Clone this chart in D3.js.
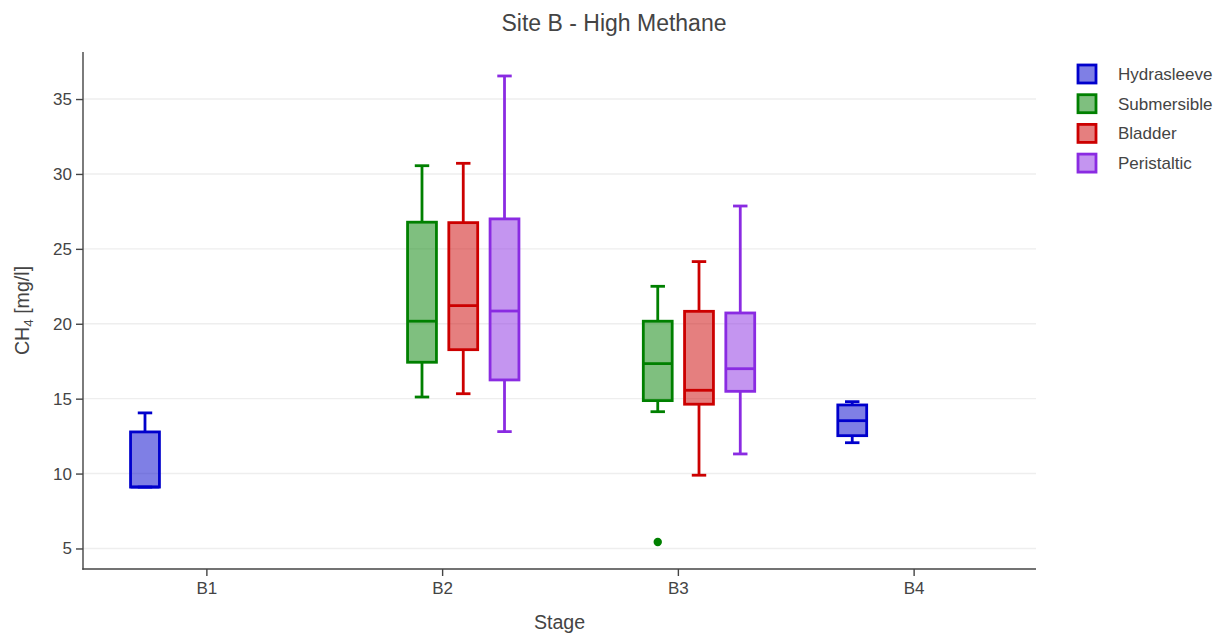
<!DOCTYPE html>
<html>
<head>
<meta charset="utf-8">
<script src="https://cdn.jsdelivr.net/npm/d3@7"></script>
<style>
  html, body { margin: 0; padding: 0; background: #fff; }
  svg { display: block; font-family: "Liberation Sans", Arial, sans-serif; }
</style>
</head>
<body>
<svg id="chart" width="1216" height="634"></svg>
<script>
// Stages along the x axis
const stages = ["B1", "B2", "B3", "B4"];
const yTicks = [5, 10, 15, 20, 25, 30, 35];

// Sampling methods (legend order)
const methods = ["Hydrasleeve", "Submersible", "Bladder", "Peristaltic"];
const lineColors = ["#0000cc", "#008000", "#cc0000", "#8a2be2"];

// Box summaries per stage: [lower whisker, Q1, median, Q3, upper whisker]; null = not sampled
const hydrasleeve = [[9.1, 9.1, 9.1, 12.78, 14.05], null, null, [12.06, 12.53, 13.53, 14.58, 14.8]];
const submersible = [null, [15.11, 17.43, 20.17, 26.78, 30.55], [14.13, 14.87, 17.34, 20.17, 22.5], null];
const bladder     = [null, [15.33, 18.27, 21.21, 26.75, 30.71], [9.89, 14.63, 15.56, 20.83, 24.15], null];
const peristaltic = [null, [12.8, 16.25, 20.85, 27.0, 36.54], [11.31, 15.49, 17.0, 20.72, 27.86], null];

// Outlying samples: [method index, stage, value]
const outliers = [[1, "B3", 5.43]];

const seriesStats = [hydrasleeve, submersible, bladder, peristaltic];

const svg = d3.select("#chart");
const plot = { left: 83, right: 1036, top: 52, bottom: 569 };

const x = d3.scaleBand().domain(stages).range([89, 1032]);
const y = d3.scaleLinear().domain([3.63, 38.14]).range([plot.bottom, plot.top]);

// slot positions of the four methods inside each stage
const groupW = x.bandwidth() * 0.7;
const slot = d3.scaleBand().domain(d3.range(methods.length)).range([-groupW / 2, groupW / 2]);
const boxW = slot.bandwidth() * 0.7;

const textColor = "#444";

// Horizontal gridlines
svg.append("g").selectAll("line").data(yTicks).join("line")
  .attr("x1", plot.left).attr("x2", plot.right)
  .attr("y1", d => y(d)).attr("y2", d => y(d))
  .attr("stroke", "#eee").attr("stroke-width", 1.4);

// Y axis
const yAxis = svg.append("g").attr("transform", `translate(${plot.left},0)`)
  .call(d3.axisLeft(y).tickValues(yTicks).tickSize(7).tickPadding(4));
yAxis.select(".domain").remove();
yAxis.selectAll(".tick line").attr("stroke", textColor).attr("stroke-width", 1.4);
yAxis.selectAll(".tick text").attr("fill", textColor).style("font-size", "17px")
  .style("font-family", "Liberation Sans, Arial, sans-serif");
svg.append("line").attr("x1", plot.left).attr("x2", plot.left)
  .attr("y1", plot.top).attr("y2", plot.bottom + 0.7)
  .attr("stroke", textColor).attr("stroke-width", 1.4);

// X axis
const xAxis = svg.append("g").attr("transform", `translate(0,${plot.bottom})`)
  .call(d3.axisBottom(x).tickSize(7).tickPadding(6));
xAxis.select(".domain").remove();
xAxis.selectAll(".tick line").attr("stroke", textColor).attr("stroke-width", 1.4);
xAxis.selectAll(".tick text").attr("fill", textColor).style("font-size", "17px")
  .style("font-family", "Liberation Sans, Arial, sans-serif");
svg.append("line").attr("x1", plot.left - 0.7).attr("x2", plot.right)
  .attr("y1", plot.bottom).attr("y2", plot.bottom)
  .attr("stroke", textColor).attr("stroke-width", 1.4);

// Boxes
const boxes = [];
seriesStats.forEach((arr, m) => {
  arr.forEach((s, i) => { if (s) boxes.push({ m, stage: stages[i], s }); });
});

const bx = d => x(d.stage) + x.bandwidth() / 2 + slot(d.m) + slot.bandwidth() / 2;

const g = svg.append("g").selectAll("g").data(boxes).join("g")
  .attr("stroke", d => lineColors[d.m]).attr("stroke-width", 2.8).attr("fill", "none");

// whiskers
g.append("line").attr("x1", bx).attr("x2", bx)
  .attr("y1", d => y(d.s[3])).attr("y2", d => y(d.s[4]));
g.append("line").attr("x1", bx).attr("x2", bx)
  .attr("y1", d => y(d.s[1])).attr("y2", d => y(d.s[0]));
// caps
g.append("line").attr("x1", d => bx(d) - boxW / 4).attr("x2", d => bx(d) + boxW / 4)
  .attr("y1", d => y(d.s[4])).attr("y2", d => y(d.s[4]));
g.append("line").attr("x1", d => bx(d) - boxW / 4).attr("x2", d => bx(d) + boxW / 4)
  .attr("y1", d => y(d.s[0])).attr("y2", d => y(d.s[0]));
// box body
g.append("rect")
  .attr("x", d => bx(d) - boxW / 2).attr("width", boxW)
  .attr("y", d => y(d.s[3])).attr("height", d => y(d.s[1]) - y(d.s[3]))
  .attr("fill", d => lineColors[d.m]).attr("fill-opacity", 0.5);
// median
g.append("line").attr("x1", d => bx(d) - boxW / 2).attr("x2", d => bx(d) + boxW / 2)
  .attr("y1", d => y(d.s[2])).attr("y2", d => y(d.s[2]));

// Outlier points
svg.append("g").selectAll("circle").data(outliers).join("circle")
  .attr("cx", d => bx({ m: d[0], stage: d[1] }))
  .attr("cy", d => y(d[2]))
  .attr("r", 4.2)
  .attr("fill", d => lineColors[d[0]]);

// Title
svg.append("text").attr("x", 614).attr("y", 31).attr("text-anchor", "middle")
  .attr("fill", textColor).style("font-size", "23px").text("Site B - High Methane");

// Axis titles
svg.append("text").attr("x", (plot.left + plot.right) / 2).attr("y", 629)
  .attr("text-anchor", "middle").attr("fill", textColor).style("font-size", "19.6px").text("Stage");

const yTitle = svg.append("text")
  .attr("transform", `translate(29,${(plot.top + plot.bottom) / 2}) rotate(-90)`)
  .attr("text-anchor", "middle").attr("fill", textColor).style("font-size", "19.6px");
yTitle.append("tspan").text("CH");
yTitle.append("tspan").attr("dy", 4).style("font-size", "13.5px").text("4");
yTitle.append("tspan").attr("dy", -4).text(" [mg/l]");

// Legend
const legend = svg.append("g").selectAll("g").data(methods).join("g")
  .attr("transform", (d, i) => `translate(1077,${74 + i * 29.7})`);
legend.append("rect").attr("x", 1).attr("y", -9).attr("width", 18).attr("height", 18)
  .attr("fill", (d, i) => lineColors[i]).attr("fill-opacity", 0.5)
  .attr("stroke", (d, i) => lineColors[i]).attr("stroke-width", 2.8);
legend.append("text").attr("x", 41).attr("y", 6)
  .attr("fill", textColor).style("font-size", "17px").text(d => d);
</script>
</body>
</html>
